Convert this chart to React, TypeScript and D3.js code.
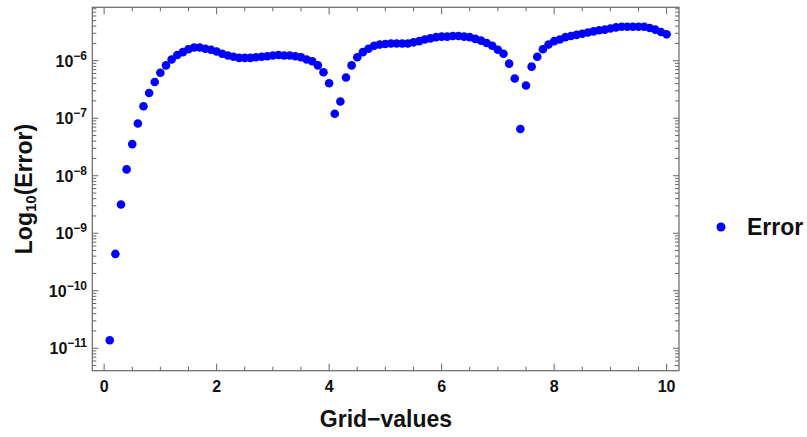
import React, { useEffect, useRef } from "react";
import * as d3 from "d3";

// grid points (x) and the error read at each one
const gridValues = [
  0.1, 0.2, 0.3, 0.4, 0.5, 0.6, 0.7, 0.8, 0.9, 1.0,
  1.1, 1.2, 1.3, 1.4, 1.5, 1.6, 1.7, 1.8, 1.9, 2.0,
  2.1, 2.2, 2.3, 2.4, 2.5, 2.6, 2.7, 2.8, 2.9, 3.0,
  3.1, 3.2, 3.3, 3.4, 3.5, 3.6, 3.7, 3.8, 3.9, 4.0,
  4.1, 4.2, 4.3, 4.4, 4.5, 4.6, 4.7, 4.8, 4.9, 5.0,
  5.1, 5.2, 5.3, 5.4, 5.5, 5.6, 5.7, 5.8, 5.9, 6.0,
  6.1, 6.2, 6.3, 6.4, 6.5, 6.6, 6.7, 6.8, 6.9, 7.0,
  7.1, 7.2, 7.3, 7.4, 7.5, 7.6, 7.7, 7.8, 7.9, 8.0,
  8.1, 8.2, 8.3, 8.4, 8.5, 8.6, 8.7, 8.8, 8.9, 9.0,
  9.1, 9.2, 9.3, 9.4, 9.5, 9.6, 9.7, 9.8, 9.9, 10.0,
];

const errorValues = [
  1.38e-11, 4.37e-10, 3.16e-9, 1.29e-8, 3.55e-8, 8.1e-8, 1.62e-7, 2.75e-7, 4.27e-7, 6.17e-7,
  8.3e-7, 1.05e-6, 1.26e-6, 1.41e-6, 1.58e-6, 1.7e-6, 1.7e-6, 1.62e-6, 1.55e-6, 1.45e-6,
  1.32e-6, 1.23e-6, 1.17e-6, 1.12e-6, 1.12e-6, 1.12e-6, 1.15e-6, 1.17e-6, 1.2e-6, 1.23e-6,
  1.26e-6, 1.23e-6, 1.23e-6, 1.2e-6, 1.15e-6, 1.05e-6, 9.8e-7, 8.3e-7, 6.3e-7, 4.07e-7,
  1.2e-7, 1.95e-7, 5.1e-7, 8.3e-7, 1.15e-6, 1.41e-6, 1.62e-6, 1.82e-6, 1.91e-6, 1.95e-6,
  2.0e-6, 2.0e-6, 2.0e-6, 2.0e-6, 2.09e-6, 2.19e-6, 2.34e-6, 2.45e-6, 2.57e-6, 2.63e-6,
  2.63e-6, 2.69e-6, 2.69e-6, 2.63e-6, 2.57e-6, 2.4e-6, 2.24e-6, 2.04e-6, 1.82e-6, 1.55e-6,
  1.32e-6, 8.9e-7, 4.9e-7, 6.5e-8, 3.7e-7, 7.9e-7, 1.17e-6, 1.58e-6, 1.91e-6, 2.19e-6,
  2.34e-6, 2.57e-6, 2.69e-6, 2.82e-6, 2.95e-6, 3.09e-6, 3.24e-6, 3.39e-6, 3.47e-6, 3.63e-6,
  3.8e-6, 3.89e-6, 3.89e-6, 3.89e-6, 3.89e-6, 3.89e-6, 3.72e-6, 3.47e-6, 3.16e-6, 2.88e-6,
];

const xTickLabels = [0, 2, 4, 6, 8, 10];
const yTickExponents = [-11, -10, -9, -8, -7, -6];
const seriesName = "Error";

const App = () => {
  const svgRef = useRef(null);

  useEffect(() => {
    const svg = d3.select(svgRef.current);
    svg.selectAll("*").remove();

    const left = 92.3;
    const right = 679;
    const top = 7.3;
    const bottom = 370.7;
    const frameColor = "#666";
    const textColor = "#111";
    const font = "'Liberation Sans', Arial, sans-serif";

    const x = d3.scaleLinear().domain([-0.21, 10.22]).range([left, right]);
    const y = d3.scaleLog().domain([4.07e-12, 8.5e-6]).range([bottom, top]);

    // points
    svg
      .append("g")
      .selectAll("circle")
      .data(gridValues.map((g, i) => ({ g, e: errorValues[i] })))
      .join("circle")
      .attr("cx", (d) => x(d.g))
      .attr("cy", (d) => y(d.e))
      .attr("r", 4.3)
      .attr("fill", "#0000ff");

    // frame
    svg
      .append("rect")
      .attr("x", left)
      .attr("y", top)
      .attr("width", right - left)
      .attr("height", bottom - top)
      .attr("fill", "none")
      .attr("stroke", frameColor)
      .attr("stroke-width", 1.2);

    const ticks = svg.append("g").attr("stroke", frameColor).attr("stroke-width", 1);

    // x ticks, every 0.5, majors at the labelled values
    const xMinor = d3.range(0, 10.01, 0.5);
    xMinor.forEach((v) => {
      const len = xTickLabels.includes(v) ? 7 : 4;
      const px = x(v);
      ticks.append("line").attr("x1", px).attr("x2", px).attr("y1", bottom).attr("y2", bottom - len);
      ticks.append("line").attr("x1", px).attr("x2", px).attr("y1", top).attr("y2", top + len);
    });

    // y ticks: decades and 2..9 in between
    const [d0, d1] = y.domain();
    for (let k = -12; k <= -5; k++) {
      for (let m = 1; m <= 9; m++) {
        const v = m * Math.pow(10, k);
        if (v < d0 || v > d1) continue;
        const len = m === 1 ? 6 : 4;
        const py = y(v);
        ticks.append("line").attr("x1", left).attr("x2", left + len).attr("y1", py).attr("y2", py);
        ticks.append("line").attr("x1", right).attr("x2", right - len).attr("y1", py).attr("y2", py);
      }
    }

    // x tick labels
    svg
      .append("g")
      .selectAll("text")
      .data(xTickLabels)
      .join("text")
      .attr("x", (d) => x(d))
      .attr("y", 392)
      .attr("text-anchor", "middle")
      .attr("font-family", font)
      .attr("font-weight", "bold")
      .attr("font-size", 16)
      .attr("fill", textColor)
      .text((d) => d);

    // y tick labels as 10^k
    yTickExponents.forEach((k) => {
      const t = svg
        .append("text")
        .attr("x", 87)
        .attr("y", y(Math.pow(10, k)) + 6)
        .attr("text-anchor", "end")
        .attr("font-family", font)
        .attr("font-weight", "bold")
        .attr("font-size", 16)
        .attr("fill", textColor);
      t.append("tspan").text("10");
      t.append("tspan").attr("font-size", 12).attr("dy", -7).text("\u2212" + Math.abs(k));
    });

    // axis labels
    svg
      .append("text")
      .attr("x", 386)
      .attr("y", 427)
      .attr("text-anchor", "middle")
      .attr("font-family", font)
      .attr("font-weight", "bold")
      .attr("font-size", 23)
      .attr("fill", textColor)
      .text("Grid\u2212values");

    const yl = svg
      .append("text")
      .attr("transform", "translate(32,189) rotate(-90)")
      .attr("text-anchor", "middle")
      .attr("font-family", font)
      .attr("font-weight", "bold")
      .attr("font-size", 23)
      .attr("fill", textColor);
    yl.append("tspan").text("Log");
    yl.append("tspan").attr("font-size", 15).attr("dy", 4).text("10");
    yl.append("tspan").attr("dy", -4).text("(Error)");

    // legend
    svg.append("circle").attr("cx", 721).attr("cy", 227).attr("r", 4.5).attr("fill", "#0000ff");
    svg
      .append("text")
      .attr("x", 747)
      .attr("y", 235)
      .attr("font-family", font)
      .attr("font-weight", "bold")
      .attr("font-size", 23)
      .attr("fill", textColor)
      .text(seriesName);
  }, []);

  return (
    <svg
      ref={svgRef}
      width={807}
      height={437}
      style={{ position: "absolute", left: 0, top: 0, background: "white", display: "block" }}
    />
  );
};

export default App;
